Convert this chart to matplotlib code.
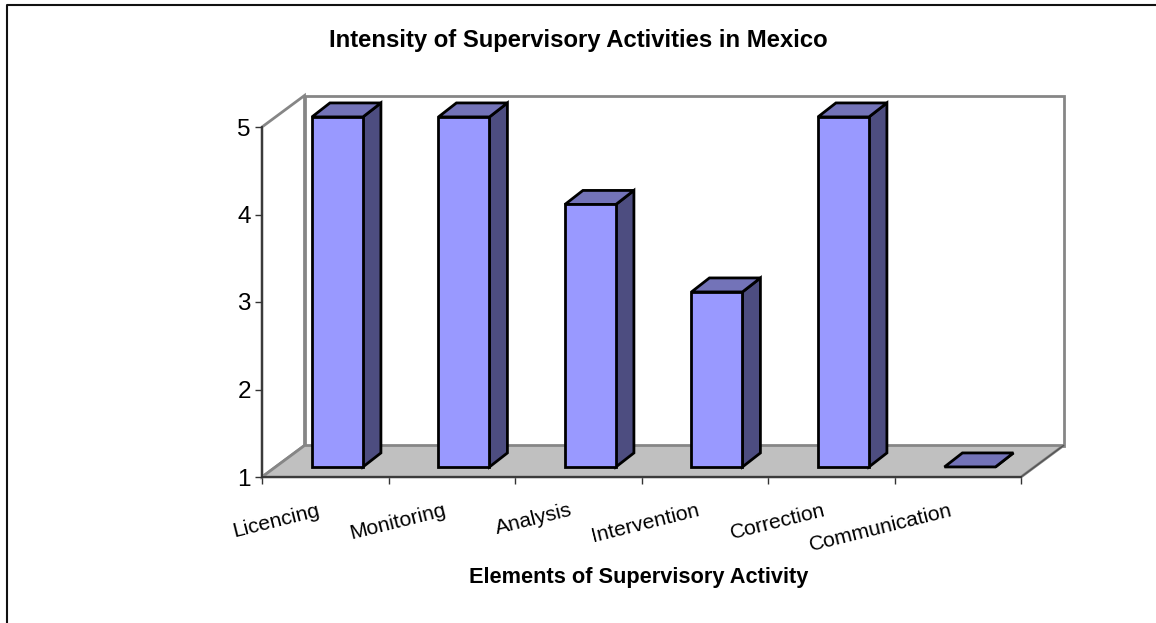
import matplotlib
matplotlib.use("Agg")
import matplotlib.pyplot as plt
from matplotlib.patches import Polygon

categories = ["Licencing", "Monitoring", "Analysis", "Intervention", "Correction", "Communication"]
intensity = [5, 5, 4, 3, 5, 1]
y_ticks = [1, 2, 3, 4, 5]

plt.rcParams["font.family"] = ["Liberation Sans", "DejaVu Sans"]

W, H = 1156, 623
fig = plt.figure(figsize=(W / 100, H / 100), dpi=100)

# front plane of the chart box: x 262..1021, y 477..127 in pixels
ax = fig.add_axes([262 / W, 1 - 477 / H, (1021 - 262) / W, (477 - 127) / H])
ax.set_xlim(0, len(categories))
ax.set_ylim(1, 5)
ax.patch.set_visible(False)

# depth of the box and of the bars, in data units
box_dx, box_dy = 0.336, 0.36
bar_left, bar_width = 0.395, 0.403
front_dy = 0.115       # bar front sits this far up the floor
depth_dx, depth_dy = 0.142, 0.16

grey = "#868686"
n = len(categories)

# back walls and floor
ax.add_patch(Polygon([(box_dx, 1 + box_dy), (n + box_dx, 1 + box_dy), (n + box_dx, 5 + box_dy),
                      (box_dx, 5 + box_dy)], fc="white", ec=grey, lw=2, clip_on=False, zorder=1))
ax.add_patch(Polygon([(0, 1), (box_dx, 1 + box_dy), (box_dx, 5 + box_dy), (0, 5)],
                     fc="white", ec=grey, lw=2, clip_on=False, zorder=1))
ax.add_patch(Polygon([(0, 1), (n, 1), (n + box_dx, 1 + box_dy), (box_dx, 1 + box_dy)],
                     fc="#c0c0c0", ec=grey, lw=2, clip_on=False, zorder=2))
ax.plot([n, n + box_dx], [1, 1 + box_dy], color="#555555", lw=1, clip_on=False, zorder=2.5)

# each bar is a front face, a top and a side
for i, v in enumerate(intensity):
    x0 = i + bar_left
    x1 = x0 + bar_width
    y0 = 1 + front_dy
    y1 = v + front_dy
    edge = dict(ec="black", lw=2, joinstyle="miter", clip_on=False, zorder=3)
    ax.add_patch(Polygon([(x1, y0), (x1 + depth_dx, y0 + depth_dy), (x1 + depth_dx, y1 + depth_dy), (x1, y1)],
                         fc="#4d4d80", **edge))
    ax.add_patch(Polygon([(x0, y1), (x1, y1), (x1 + depth_dx, y1 + depth_dy), (x0 + depth_dx, y1 + depth_dy)],
                         fc="#7373b8", **edge))
    if v > 1:
        ax.add_patch(Polygon([(x0, y0), (x1, y0), (x1, y1), (x0, y1)], fc="#9999ff", **edge))

# axes
for side in ["top", "right"]:
    ax.spines[side].set_visible(False)
for side in ["left", "bottom"]:
    ax.spines[side].set_linewidth(1.3)
    ax.spines[side].set_color("#333333")
    ax.spines[side].set_zorder(4)
ax.set_yticks(y_ticks)
ax.tick_params(axis="y", labelsize=17.5, length=5, width=1, color="#333333", pad=3)
ax.set_xticks(range(n + 1))
ax.set_xticklabels([])
ax.tick_params(axis="x", length=5, width=1, color="#333333")

for i, name in enumerate(categories):
    ax.annotate(name, xy=(i + 0.5, 1), xytext=(-6, -17), textcoords="offset points",
                ha="right", va="top", rotation=14, rotation_mode="anchor", fontsize=15.2)

fig.text(578.5 / W, 1 - 41 / H, "Intensity of Supervisory Activities in Mexico", ha="center", va="center",
         fontsize=17.2, fontweight="bold")
fig.text(639 / W, 1 - 578 / H, "Elements of Supervisory Activity", ha="center", va="center",
         fontsize=15.7, fontweight="bold")

# outer frame, only the top and left edges fall inside the canvas
fig.add_artist(plt.Line2D([6.5 / W, 6.5 / W, 1], [0, 1 - 5 / H, 1 - 5 / H], color="#111111", lw=1.5,
                          transform=fig.transFigure))

fig.savefig("out.png", dpi=100)
